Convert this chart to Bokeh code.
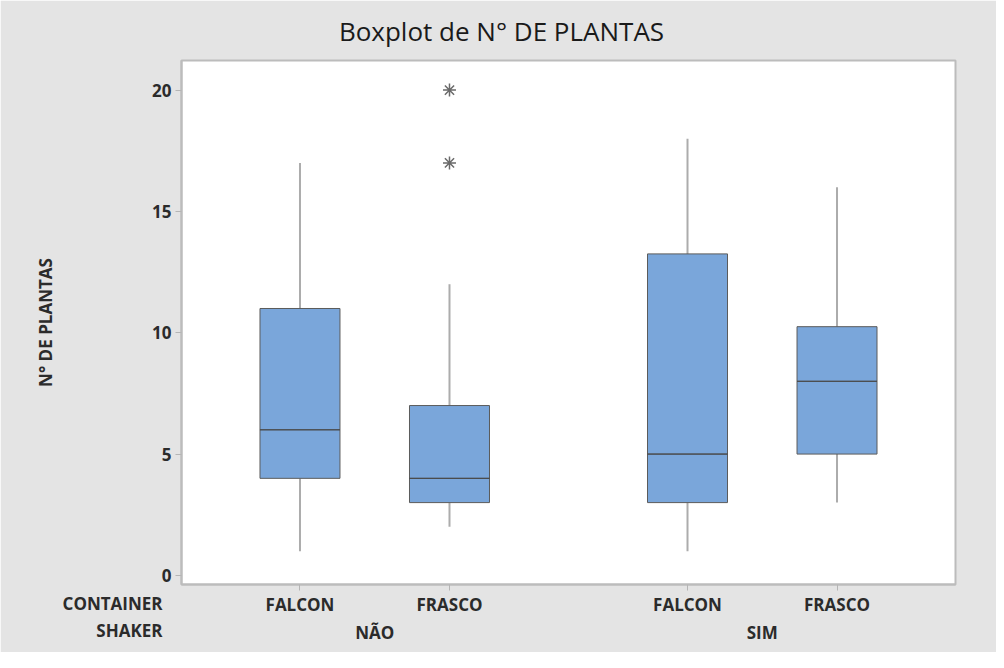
import math
from bokeh.plotting import figure
from bokeh.models import FactorRange, Range1d, FixedTicker, Label, ColumnDataSource
from bokeh.embed import file_html
from bokeh.resources import INLINE

# ---- data ----
shaker = ["NÃO", "NÃO", "SIM", "SIM"]
container = ["FALCON", "FRASCO", "FALCON", "FRASCO"]
lower_whisker = [1, 2, 1, 3]
q1 = [4, 3, 3, 5]
median = [6, 4, 5, 8]
q3 = [11, 7, 13.25, 10.25]
upper_whisker = [17, 12, 18, 16]
outlier_shaker = ["NÃO", "NÃO"]
outlier_container = ["FRASCO", "FRASCO"]
outlier_values = [17, 20]
y_ticks = [0, 5, 10, 15, 20]

FONT = "Open Sans"
TXT = "#2b2b2b"
BG = "#e4e4e4"
EDGE = "#bcbcbc"

factors = list(zip(shaker, container))
src = ColumnDataSource(dict(x=factors, lw=lower_whisker, q1=q1, med=median,
                            q3=q3, uw=upper_whisker))
osrc = ColumnDataSource(dict(x=list(zip(outlier_shaker, outlier_container)),
                             y=outlier_values))

x_range = FactorRange(*factors, group_padding=0.592, range_padding=0.1274)
p = figure(x_range=x_range, y_range=Range1d(-0.375, 21.22),
           width=996, height=652, output_backend="svg", toolbar_location=None,
           min_border_left=181, min_border_right=41, min_border_top=60,
           min_border_bottom=68, background_fill_color="white",
           border_fill_color=BG, outline_line_color=EDGE, outline_line_width=2)
p.title.visible = False

p.xgrid.grid_line_color = None
p.ygrid.grid_line_color = None

# whiskers
p.segment(x0="x", y0="q3", x1="x", y1="uw", source=src, line_color="#acacac", line_width=2)
p.segment(x0="x", y0="lw", x1="x", y1="q1", source=src, line_color="#acacac", line_width=2)
# boxes
p.vbar(x="x", bottom="q1", top="q3", width=0.535, source=src,
       fill_color="#7aa6da", line_color="#5b5b5b", line_width=1)
# medians
p.vbar(x="x", bottom="med", top="med", width=0.535, source=src,
       fill_alpha=0, line_color="#4a4a4a", line_width=1)
# outliers
p.scatter(x="x", y="y", source=osrc, marker="asterisk", size=13,
          line_color="#6a6a6a", line_width=1.5)

# axes
xa = p.xaxis[0]
xa.axis_line_color = EDGE
xa.axis_line_width = 2
xa.major_tick_in = 0
xa.major_tick_out = 6
xa.major_tick_line_color = "#b5b5b5"
xa.minor_tick_line_color = None
xa.major_label_text_font = FONT
xa.major_label_text_font_size = "17px"
xa.major_label_text_font_style = "bold"
xa.major_label_text_color = TXT
xa.major_label_standoff = 2
xa.group_text_font = FONT
xa.group_text_font_size = "17px"
xa.group_text_font_style = "bold"
xa.group_text_color = TXT
xa.separator_line_color = None

ya = p.yaxis[0]
ya.ticker = FixedTicker(ticks=y_ticks)
ya.axis_line_color = EDGE
ya.axis_line_width = 2
ya.major_tick_in = 0
ya.major_tick_out = 6
ya.major_tick_line_color = "#b5b5b5"
ya.minor_tick_line_color = None
ya.major_label_text_font = FONT
ya.major_label_text_font_size = "17px"
ya.major_label_text_font_style = "bold"
ya.major_label_text_color = TXT
ya.major_label_standoff = 4

# side-panel labels (not clipped to the frame), placed in canvas pixels
def side_label(text, x, y, align="right", angle=0.0, size="17px",
               style="bold", color=TXT):
    return Label(x=x, y=y, x_units="canvas", y_units="canvas", text=text,
                 text_font=FONT, text_font_size=size, text_font_style=style,
                 text_color=color, text_align=align, text_baseline="middle",
                 angle=angle)

p.add_layout(side_label("Boxplot de N° DE PLANTAS", 501, 30, "center",
                        size="26px", style="normal", color="#1a1a1a"), "above")
p.add_layout(side_label("SHAKER", 162, 630), "above")
p.add_layout(side_label("N° DE PLANTAS", 45, 322, "center", math.pi / 2), "left")
p.add_layout(side_label("CONTAINER", 162, 603), "left")

open("out.html", "w").write(file_html(p, INLINE))
